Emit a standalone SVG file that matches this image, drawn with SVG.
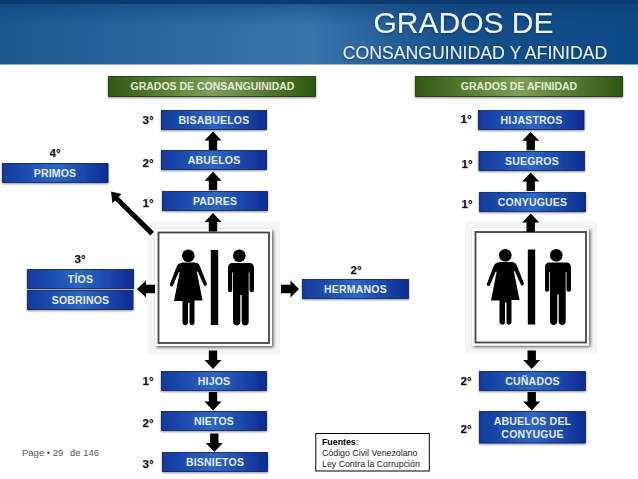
<svg xmlns="http://www.w3.org/2000/svg" xmlns:xlink="http://www.w3.org/1999/xlink" width="638" height="479" viewBox="0 0 638 479">
<style>
text{font-family:"Liberation Sans",Arial,sans-serif}
.box{fill:url(#blue);stroke:#0b1f5e;stroke-width:.8;filter:url(#sh)}
.gbox{fill:url(#green);stroke:#1c3008;stroke-width:.8;filter:url(#sh)}
.lbl{fill:#e6edf9;font-size:10.500px;font-weight:bold;text-anchor:middle;letter-spacing:.2px}
.glbl{fill:#e4ead8;font-size:10.500px;font-weight:bold;text-anchor:middle}
.deg{fill:#111;font-size:11.500px;font-weight:bold;text-anchor:middle;filter:url(#ts)}
.arr{fill:#000}
.small{fill:#222;font-size:8.800px}
</style>
<defs>
<linearGradient id="blue" x1="0" x2="1" y1="0" y2="0"><stop offset="0" stop-color="#10399c"/><stop offset=".5" stop-color="#2c66c4"/><stop offset="1" stop-color="#0c2c92"/></linearGradient>
<linearGradient id="green" x1="0" x2="1" y1="0" y2="0"><stop offset="0" stop-color="#30590f"/><stop offset=".5" stop-color="#7d9f56"/><stop offset="1" stop-color="#2d570f"/></linearGradient>
<linearGradient id="hdr" x1="0" x2="1" y1="0" y2="0"><stop offset="0" stop-color="#1b5890"/><stop offset=".48" stop-color="#3a74ad"/><stop offset=".72" stop-color="#154f8b"/><stop offset="1" stop-color="#0c4a85"/></linearGradient>
<linearGradient id="hdrtop" x1="0" x2="0" y1="0" y2="1"><stop offset="0" stop-color="#0a3c70" stop-opacity=".55"/><stop offset=".4" stop-color="#0a3c70" stop-opacity="0"/></linearGradient>
<filter id="sh" x="-10%" y="-30%" width="120%" height="170%"><feDropShadow dx="0" dy="1" stdDeviation="1" flood-color="#000" flood-opacity=".45"/></filter>
<filter id="ts" x="-30%" y="-30%" width="160%" height="160%"><feDropShadow dx=".5" dy=".5" stdDeviation=".5" flood-color="#000" flood-opacity=".4"/></filter>
<filter id="tt" x="-5%" y="-20%" width="110%" height="140%"><feDropShadow dx="0" dy="1" stdDeviation="1" flood-color="#0a2a50" flood-opacity=".7"/></filter>
<filter id="fs" x="-10%" y="-10%" width="120%" height="120%"><feDropShadow dx="1.500" dy="1.500" stdDeviation="1.500" flood-color="#000" flood-opacity=".6"/></filter>
<g id="sign">
<rect x="-10" y="-10" width="132" height="132" fill="#f5f5f7"/>
<rect x="-3" y="-3" width="117" height="117" fill="#fff" filter="url(#fs)"/>
<rect x=".5" y=".5" width="110.500" height="110.500" fill="#fff" stroke="#444" stroke-width="1.800"/>
<circle cx="30.300" cy="23.700" r="6.300" fill="#000"/>
<path d="M24 30.500h12.500c3 0 4.500 1.500 5.500 4l6.800 17c.7 2-2 3.500-3 1.500l-5.800-13c-.5-1-1.300-.7-1 .5l5.500 28H36.500v22c0 3.500-5 3.500-5 0V71h-1.500v19.500c0 3.500-5.500 3.500-5.500 0V69H16l5.500-28c.3-1.200-.5-1.500-1-.5L15 53.500c-1 2-3.700.5-3-1.500l6.500-17c1-2.500 2.500-4 5.500-4z" fill="#000"/>
<rect x="52.800" y="18" width="7.400" height="75" fill="#000"/>
<circle cx="81.300" cy="23.700" r="6.300" fill="#000"/>
<path d="M72 31h19c3.500 0 5 2 5 5v22c0 3-4.500 3-4.500 0V40.500h-.8V90c0 4.500-7 4.500-7 0V63h-1.400v27c0 4.500-7.300 4.500-7.300 0V40.500h-.8V58c0 3-4.200 3-4.200 0V36c0-3 1.500-5 5-5z" fill="#000"/>
</g>
<path id="up" d="M0 0l8.500 9h-4.300v9.500h-8.400V9h-4.300z"/>
<path id="down" d="M0 0l8.500-9h-4.300v-9.500h-8.400V-9h-4.300z"/>
</defs>

<g id="header">
<rect width="638" height="64.500" fill="url(#hdr)"/>
<rect width="638" height="64.500" fill="url(#hdrtop)"/>
<rect width="638" height="4" fill="#0a3a6e"/>
<text x="463.500" y="32.500" font-size="30" fill="#eef4fa" text-anchor="middle" filter="url(#tt)">GRADOS DE</text>
<text x="475" y="59" font-size="17.700" fill="#e8f0f8" text-anchor="middle" filter="url(#tt)">CONSANGUINIDAD Y AFINIDAD</text>
</g>

<g id="head-consanguinidad"><rect class="gbox" x="108.500" y="76.500" width="207" height="20"/><text class="glbl" x="212.500" y="90">GRADOS DE CONSANGUINIDAD</text></g>
<g id="head-afinidad"><rect class="gbox" x="415.500" y="76.500" width="207" height="20"/><text class="glbl" x="519" y="90">GRADOS DE AFINIDAD</text></g>

<g id="sign-left"><use xlink:href="#sign" href="#sign" x="158" y="232"/></g>
<g id="sign-right"><use xlink:href="#sign" href="#sign" x="475" y="231.500"/></g>

<g id="connectors" class="arr">
<use href="#up" x="213" y="131.500"/>
<use href="#up" x="213" y="171.700"/>
<use href="#up" x="213" y="213"/>
<use href="#down" x="213" y="369"/>
<use href="#down" x="213" y="410.500"/>
<use href="#down" x="214.300" y="452"/>
<path d="M137 289l9-8.500v4.300h9v8.400h-9v4.300z"/>
<path d="M299 289l-8.500-8.500v4.300H281v8.400h9.500v4.300z"/>
<path d="M111 191.500l10.500 2.500-2.900 2.900 35.400 34.900-3.600 3.600-35.200-35-2.800 2.800z"/>
<use href="#up" x="530.700" y="131.700"/>
<use href="#up" x="530.700" y="172.500"/>
<use href="#up" x="530.700" y="213.500"/>
<use href="#down" x="531.700" y="369"/>
<use href="#down" x="531.700" y="410.500"/>
</g>

<g id="bisabuelos"><rect class="box" x="161.500" y="110.500" width="105" height="19"/><text class="lbl" x="214" y="124">BISABUELOS</text><text class="deg" x="148" y="124">3°</text></g>
<g id="abuelos"><rect class="box" x="161.500" y="150.500" width="105" height="19"/><text class="lbl" x="214" y="164">ABUELOS</text><text class="deg" x="148" y="167">2°</text></g>
<g id="padres"><rect class="box" x="162.500" y="191.500" width="105" height="19"/><text class="lbl" x="215" y="205">PADRES</text><text class="deg" x="148" y="207">1°</text></g>
<g id="primos"><rect class="box" x="2.500" y="163.500" width="105.500" height="19"/><text class="lbl" x="55" y="177">PRIMOS</text><text class="deg" x="55" y="157">4°</text></g>
<g id="tios"><rect class="box" x="27.500" y="269.500" width="106" height="19"/><text class="lbl" x="80.500" y="283">TÍOS</text><text class="deg" x="80" y="263">3°</text></g>
<g id="sobrinos"><rect class="box" x="27.500" y="290.500" width="105.500" height="19"/><text class="lbl" x="80.500" y="304">SOBRINOS</text></g>
<g id="hermanos"><rect class="box" x="302.500" y="279.500" width="106" height="19"/><text class="lbl" x="355.500" y="293">HERMANOS</text><text class="deg" x="356" y="274">2°</text></g>
<g id="hijos"><rect class="box" x="161.500" y="371.500" width="105" height="19"/><text class="lbl" x="214" y="385">HIJOS</text><text class="deg" x="148" y="385">1°</text></g>
<g id="nietos"><rect class="box" x="161.500" y="411.500" width="105" height="19"/><text class="lbl" x="214" y="425">NIETOS</text><text class="deg" x="148" y="427">2°</text></g>
<g id="bisnietos"><rect class="box" x="162.500" y="452.500" width="105" height="19"/><text class="lbl" x="215" y="466">BISNIETOS</text><text class="deg" x="148" y="468">3°</text></g>

<g id="hijastros"><rect class="box" x="478.500" y="110.500" width="105.500" height="19"/><text class="lbl" x="531.500" y="124">HIJASTROS</text><text class="deg" x="466" y="123">1°</text></g>
<g id="suegros"><rect class="box" x="479" y="151.500" width="105.500" height="19"/><text class="lbl" x="532" y="165">SUEGROS</text><text class="deg" x="467" y="168">1°</text></g>
<g id="conyugues"><rect class="box" x="479.500" y="192.500" width="106" height="19"/><text class="lbl" x="532.500" y="206">CONYUGUES</text><text class="deg" x="467" y="208">1°</text></g>
<g id="cunados"><rect class="box" x="479.500" y="371.500" width="106" height="19"/><text class="lbl" x="532.500" y="385">CUÑADOS</text><text class="deg" x="466" y="385">2°</text></g>
<g id="abuelos-conyugue"><rect class="box" x="479.500" y="411.500" width="106" height="31.500"/><text class="lbl" x="532.500" y="425">ABUELOS DEL</text><text class="lbl" x="532.500" y="438">CONYUGUE</text><text class="deg" x="466" y="433">2°</text></g>

<g id="fuentes"><rect x="315.800" y="433.500" width="113.500" height="37.500" fill="#fff" stroke="#000"/>
<text class="small" x="322" y="445"><tspan font-weight="bold" fill="#000">Fuentes</tspan>:</text>
<text class="small" x="322" y="456">Código Civil Venezolano</text>
<text class="small" x="322" y="467">Ley Contra la Corrupción</text></g>

<text id="page" x="22" y="456" font-size="9.500" fill="#555">Page • 29<tspan x="70">de 146</tspan></text>
</svg>
